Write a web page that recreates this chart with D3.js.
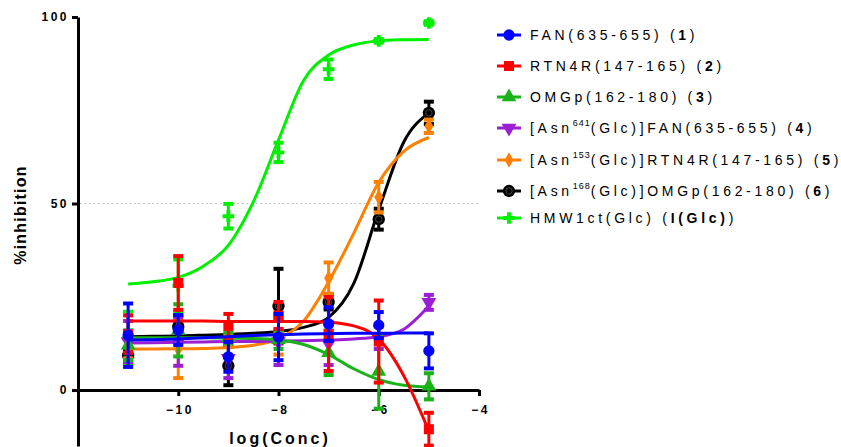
<!DOCTYPE html>
<html>
<head>
<meta charset="utf-8">
<script src="https://cdn.jsdelivr.net/npm/d3@7"></script>
<style>
  body { margin: 0; background: #fff; }
  svg text { font-family: "Liberation Sans", Arial, sans-serif; }
</style>
</head>
<body>
<svg id="chart" width="841" height="447"></svg>
<script>
// measured points: log concentration
const logConc = [-11, -10, -9, -8, -7, -6, -5];

// mean and SEM of each peptide
const fanMean = [14.7, 16.1, 8.9, 14.2, 17.7, 17.4, 10.5];
const fanSem = [8.5, 4, 4, 6.2, 4.5, 3.5, 4.7];
const rtnMean = [15, 28.7, 17.2, 20, 15, 13, -10.5];
const rtnSem = [5, 7.2, 3.2, 3.6, 9.9, 11, 4.4];
const omgMean = [12, 16, 14, 13.5, 10, 5, 1];
const omgSem = [4, 7, 1.5, 2.5, 6, 10, 3.5];
const fanGlcMean = [13, 13, 8.5, 13, 12.5, 14, 23.5];
const fanGlcSem = [5.5, 6.5, 5.3, 6.3, 5.8, 3, 2];
const rtnGlcMean = [11.5, 11, 12, 12.5, 30, 51.7, 70.7];
const rtnGlcSem = [3, 7.8, 3, 3, 4.2, 4.1, 1.8];
const omgGlcMean = [9.3, 17, 6.5, 22.5, 23.6, 45.8, 74.3];
const omgGlcSem = [1.5, 3, 5.2, 10, 2, 2.8, 3];
const hmwMean = [14, 28, 46.6, 63.7, 86, 93.6, 98.4];
const hmwSem = [7, 7, 3.3, 2.6, 2.6, 0.5, 0.5];

// fitted curves
const fitX = [-11, -10.5, -10, -9.5, -9, -8.5, -8, -7.5, -7, -6.5, -6, -5.5, -5];
const fanFit = [13.4, 13.5, 13.7, 14.0, 14.3, 14.6, 14.8, 15.0, 15.1, 15.2, 15.2, 15.3, 15.3];
const rtnFit = [18.5, 18.5, 18.5, 18.5, 18.4, 18.4, 18.4, 18.4, 18.2, 17.2, 13.7, 3.8, -11];
const omgFit = [14.0, 14.0, 14.0, 14.0, 13.9, 13.8, 13.4, 12.2, 9.5, 5.7, 2.8, 1.3, 0.8];
const fanGlcFit = [12.6, 12.7, 12.8, 12.9, 13.0, 13.0, 13.1, 13.2, 13.4, 13.7, 14.3, 16.3, 22.5];
const rtnGlcFit = [11, 11, 11.05, 11.15, 11.4, 12, 13.8, 18.5, 29, 42, 55.7, 64, 67.7];
const omgGlcFit = [14.3, 14.4, 14.5, 14.7, 14.9, 15.2, 15.7, 16.8, 19.5, 28.5, 48.3, 66.5, 74.3];
const hmwFit = [28.4, 29.0, 30.2, 33.2, 38.8, 50.5, 67, 83, 89.8, 92.5, 93.6, 93.9, 94.0];

const xTicks = [-10, -8, -6, -4];
const yTicks = [0, 50, 100];

const series = [
  { label: [["FAN(635-655) ("], ["1", "b"], [")"]], color: "#0000ff", shape: "circle", mean: fanMean, sem: fanSem, fit: fanFit },
  { label: [["RTN4R(147-165) ("], ["2", "b"], [")"]], color: "#ff0000", shape: "square", mean: rtnMean, sem: rtnSem, fit: rtnFit },
  { label: [["OMGp(162-180) ("], ["3", "b"], [")"]], color: "#19b219", shape: "triUp", mean: omgMean, sem: omgSem, fit: omgFit },
  { label: [["[Asn"], ["641", "sup"], ["(Glc)]FAN(635-655) ("], ["4", "b"], [")"]], color: "#9b1ed6", shape: "triDown", mean: fanGlcMean, sem: fanGlcSem, fit: fanGlcFit },
  { label: [["[Asn"], ["153", "sup"], ["(Glc)]RTN4R(147-165) ("], ["5", "b"], [")"]], color: "#ff8000", shape: "diamond", mean: rtnGlcMean, sem: rtnGlcSem, fit: rtnGlcFit },
  { label: [["[Asn"], ["168", "sup"], ["(Glc)]OMGp(162-180) ("], ["6", "b"], [")"]], color: "#000000", shape: "ring", mean: omgGlcMean, sem: omgGlcSem, fit: omgGlcFit },
  { label: [["HMW1ct(Glc) ("], ["I(Glc)", "b"], [")"]], color: "#00f000", shape: "plus", mean: hmwMean, sem: hmwSem, fit: hmwFit },
];

const svg = d3.select("#chart");

const x = d3.scaleLinear().domain([-12, -4]).range([78, 479]);
const y = d3.scaleLinear().domain([-15, 100]).range([446, 17]);

// dotted line at 50
svg.append("line")
  .attr("x1", x(-12) + 2).attr("x2", x(-4))
  .attr("y1", y(50)).attr("y2", y(50))
  .attr("stroke", "#c8c8c8").attr("stroke-width", 1.2)
  .attr("stroke-dasharray", "2,2.5");

const yAxis = svg.append("g")
  .attr("transform", `translate(${x(-12)},0)`)
  .call(d3.axisLeft(y).tickValues(yTicks).tickSize(6).tickSizeOuter(0).tickPadding(3));

const xAxis = svg.append("g")
  .attr("transform", `translate(0,${y(0)})`)
  .call(d3.axisBottom(x).tickValues(xTicks).tickSize(6).tickSizeOuter(0).tickPadding(9));

[xAxis, yAxis].forEach((g) => {
  g.select(".domain").attr("stroke-width", 3).attr("stroke", "#000");
  g.selectAll(".tick line").attr("stroke-width", 3).attr("stroke", "#000");
  g.selectAll(".tick text")
    .attr("font-size", 12).attr("font-weight", "bold")
    .attr("letter-spacing", 2.5).attr("fill", "#000");
});
xAxis.selectAll(".tick text").attr("dx", "1.2");

svg.append("text")
  .attr("transform", "translate(26,215) rotate(-90)")
  .attr("text-anchor", "middle")
  .attr("font-size", 16).attr("font-weight", "bold").attr("letter-spacing", 1.2)
  .text("%inhibition");

svg.append("text")
  .attr("x", 280).attr("y", 444)
  .attr("text-anchor", "middle")
  .attr("font-size", 16).attr("font-weight", "bold").attr("letter-spacing", 3)
  .text("log(Conc)");

function drawMarker(g, shape, color, cx, cy) {
  const sym = {
    circle: d3.symbolCircle, square: d3.symbolSquare, triUp: d3.symbolTriangle,
    triDown: d3.symbolTriangle, diamond: d3.symbolDiamond, ring: d3.symbolCircle, plus: d3.symbolCross,
  }[shape];
  const size = { circle: 100, square: 100, triUp: 95, triDown: 95, diamond: 70, ring: 120, plus: 75 }[shape];
  const rot = shape === "triDown" ? 180 : 0;
  g.append("path")
    .attr("d", d3.symbol(sym, size)())
    .attr("transform", `translate(${cx},${cy}) rotate(${rot})`)
    .attr("fill", color);
  if (shape === "ring") {
    g.append("circle").attr("cx", cx).attr("cy", cy).attr("r", 3.2)
      .attr("fill", "none").attr("stroke", "#555").attr("stroke-width", 0.8);
  }
}

const line = d3.line().x((d) => x(d[0])).y((d) => y(d[1])).curve(d3.curveMonotoneX);

// series 7 first so that series 1 ends up on top
series.slice().reverse().forEach((s) => {
  const g = svg.append("g");
  g.append("path")
    .datum(fitX.map((v, i) => [v, s.fit[i]]))
    .attr("d", line)
    .attr("fill", "none").attr("stroke", s.color).attr("stroke-width", 3);

  logConc.forEach((lc, i) => {
    const cx = x(lc);
    const top = y(s.mean[i] + s.sem[i]);
    const bot = y(s.mean[i] - s.sem[i]);
    g.append("line").attr("x1", cx).attr("x2", cx).attr("y1", top).attr("y2", bot)
      .attr("stroke", s.color).attr("stroke-width", 3);
    [top, bot].forEach((yy) => {
      g.append("line").attr("x1", cx - 5).attr("x2", cx + 5).attr("y1", yy).attr("y2", yy)
        .attr("stroke", s.color).attr("stroke-width", 4);
    });
    drawMarker(g, s.shape, s.color, cx, y(s.mean[i]));
  });
});

// legend
const legendRows = [35, 66, 97, 128, 160, 191, 218];
series.forEach((s, i) => {
  const ly = legendRows[i];
  const g = svg.append("g");
  g.append("line").attr("x1", 497).attr("x2", 521).attr("y1", ly).attr("y2", ly)
    .attr("stroke", s.color).attr("stroke-width", 3);
  drawMarker(g, s.shape, s.color, 509, ly);
  const t = g.append("text")
    .attr("x", 530).attr("y", ly + 5)
    .attr("font-size", 14).attr("letter-spacing", 3.7).attr("fill", "#000");
  s.label.forEach(([txt, kind]) => {
    const ts = t.append("tspan").text(txt);
    if (kind === "b") ts.attr("font-weight", "bold");
    if (kind === "sup") {
      ts.attr("font-size", 9).attr("dy", -7).attr("letter-spacing", 1);
    }
  });
  // bring baseline back after superscript
  t.selectAll("tspan").each(function (d, j, nodes) {
    if (j > 0 && nodes[j - 1].getAttribute("dy") === "-7") d3.select(this).attr("dy", 7);
  });
});
</script>
</body>
</html>
